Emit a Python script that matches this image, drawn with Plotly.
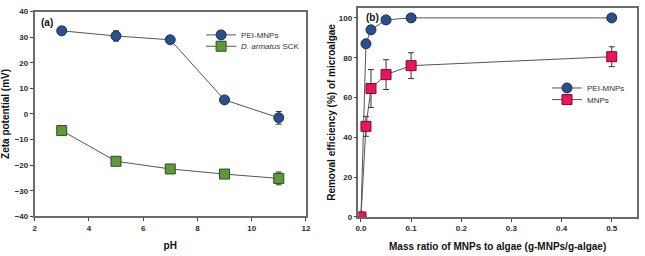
import plotly.graph_objects as go

# Panel (a)
ph = [3, 5, 7, 9, 11]
zeta_pei = [32.5, 30.5, 29.0, 5.5, -1.5]
zeta_pei_err = [1.5, 2.0, 1.0, 1.0, 2.5]
zeta_sck = [-6.5, -18.5, -21.5, -23.5, -25.2]
zeta_sck_err = [0.8, 1.5, 1.0, 1.0, 2.5]

# Panel (b)
ratio = [0, 0.01, 0.02, 0.05, 0.1, 0.5]
rem_pei = [0, 87, 94, 99, 100, 100]
rem_pei_err = [0, 0.5, 0.5, 0.5, 0.3, 0.3]
rem_mnp = [0, 45.5, 64.5, 71.5, 76, 80.5]
rem_mnp_err = [0, 5, 9.5, 7.5, 6.5, 5]

FONT = "Liberation Sans, Arial, sans-serif"
LINE = "#555555"
BLUE = "#2b4e8c"
GREEN = "#5c9a3c"
PINK = "#e8175d"

fig = go.Figure()

def err(vals):
    return dict(type="data", array=vals, visible=True, color="#333333", thickness=1, width=3)

fig.add_trace(go.Scatter(x=ph, y=zeta_pei, mode="lines+markers", name="PEI-MNPs",
                         line=dict(color=LINE, width=1),
                         marker=dict(symbol="circle", size=10, color=BLUE, line=dict(color="#1c2f55", width=1)),
                         error_y=err(zeta_pei_err), xaxis="x", yaxis="y", legend="legend"))
fig.add_trace(go.Scatter(x=ph, y=zeta_sck, mode="lines+markers", name="<i>D. armatus</i> SCK",
                         line=dict(color=LINE, width=1),
                         marker=dict(symbol="square", size=10, color=GREEN, line=dict(color="#2e4d1e", width=1)),
                         error_y=err(zeta_sck_err), xaxis="x", yaxis="y", legend="legend2"))

fig.add_trace(go.Scatter(x=ratio, y=rem_pei, mode="lines+markers", name="PEI-MNPs",
                         line=dict(color=LINE, width=1),
                         marker=dict(symbol="circle", size=10, color=BLUE, line=dict(color="#1c2f55", width=1)),
                         error_y=err(rem_pei_err), xaxis="x2", yaxis="y2", legend="legend3"))
fig.add_trace(go.Scatter(x=ratio, y=rem_mnp, mode="lines+markers", name="MNPs",
                         line=dict(color=LINE, width=1),
                         marker=dict(symbol="square", size=10, color=PINK, line=dict(color="#7a0c30", width=1)),
                         error_y=err(rem_mnp_err), xaxis="x2", yaxis="y2", legend="legend4"))

axcommon = dict(showline=True, linecolor="#6a6a6a", linewidth=1.5, mirror=True, showgrid=False,
                zeroline=False, ticks="outside", ticklen=3, tickcolor="#444444",
                tickfont=dict(family=FONT, size=8, color="#2a2a2a", weight="bold"))
titlefont = dict(family=FONT, size=10, color="#111111", weight="bold")

def leg(x, y):
    return dict(x=x, y=y, xanchor="left", yanchor="middle", bgcolor="rgba(0,0,0,0)",
                font=dict(family=FONT, size=8, color="#333333"), itemwidth=30)

fig.update_layout(
    width=645, height=256,
    margin=dict(l=0, r=0, t=0, b=0),
    paper_bgcolor="white", plot_bgcolor="white",
    font=dict(family=FONT),
    showlegend=True,
    xaxis=dict(domain=[0.0496, 0.4755], range=[2, 12], dtick=2, anchor="y",
               title=dict(text="pH", font=titlefont, standoff=10), **axcommon),
    yaxis=dict(domain=[0.1406, 0.969], range=[-40, 40], dtick=10, anchor="x",
               title=dict(text="Zeta potential (mV)", font=titlefont, standoff=3), **axcommon),
    xaxis2=dict(domain=[0.558, 0.995], range=[-0.005, 0.55], dtick=0.1, tickformat=".1f", anchor="y2",
                title=dict(text="Mass ratio of MNPs to algae (g-MNPs/g-algae)", font=titlefont, standoff=11), **axcommon),
    yaxis2=dict(domain=[0.138, 0.984], range=[0, 105], tickvals=[0, 20, 40, 60, 80, 100], anchor="x2",
                title=dict(text="Removal efficiency (%) of microalgae", font=titlefont, standoff=1), **axcommon),
    legend=leg(0.311, 0.875),
    legend2=leg(0.311, 0.829),
    legend3=leg(0.854, 0.66),
    legend4=leg(0.854, 0.613),
    annotations=[
        dict(text="<b>(a)</b>", x=0.056, y=0.955, xref="paper", yref="paper", xanchor="left", yanchor="top",
             showarrow=False, font=dict(family=FONT, size=10, color="#111111")),
        dict(text="<b>(b)</b>", x=0.566, y=0.975, xref="paper", yref="paper", xanchor="left", yanchor="top",
             showarrow=False, font=dict(family=FONT, size=10, color="#111111")),
    ],
)

fig.write_html("out.html")
